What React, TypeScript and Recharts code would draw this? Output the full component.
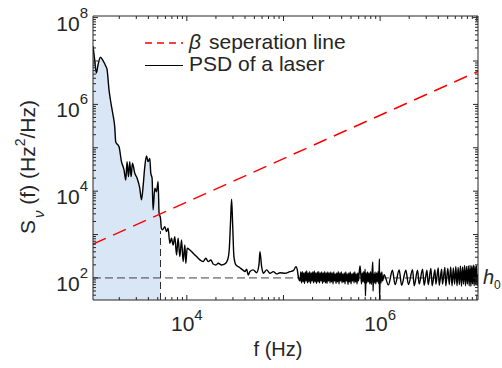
import React from 'react';
import { ComposedChart, XAxis, YAxis, Line, Area, ReferenceLine, Customized } from 'recharts';

const FONT = '"Liberation Sans", Arial, Helvetica, sans-serif';
const INK = '#262626';

const X_MIN = 1069;
const X_MAX = 1.03e7;
const Y_MIN = 31;
const Y_MAX = 1.09e8;

// Low-frequency part of the laser PSD (inside the A_s region)
const lowFreq = [1069, 1113, 1160, 1204, 1276, 1357, 1447, 1494, 1566, 1631, 1722, 1795, 1838, 1988, 2106, 2240, 2333, 2406, 2488, 2566, 2648, 2736, 2892, 3055, 3258, 3394, 3525, 3671, 3823, 3972, 4137, 4236, 4369, 4475, 4660, 4853, 5042, 5163, 5340];
const lowPsd = [2.21e7, 1.05e7, 5.3e6, 8.1e6, 1.22e7, 1.02e7, 7.7e6, 6.4e6, 2.15e6, 1.15e6, 5.7e5, 3.0e5, 1.36e5, 1.06e5, 4.8e4, 3.1e4, 1.8e4, 4.8e4, 2.16e4, 4.8e4, 2.16e4, 4.4e4, 2.6e4, 2.0e4, 1.17e4, 6.3e3, 1.27e4, 3.66e4, 6.5e4, 4.8e4, 5.7e4, 2.6e4, 2.0e4, 3.7e3, 1.17e4, 9.7e3, 1.66e4, 3.1e3, 2.4e3];

// Mid-frequency part
const midFreq = [5441, 5601, 5916, 6161, 6401, 6665, 6940, 7211, 7510, 7823, 8125, 8463, 8812, 9155, 9535, 9765, 10072, 10742, 11623, 12610, 13637, 14755, 15738, 16626, 17730, 18730, 19977, 21105, 22883, 24755, 26413, 27442, 28375, 29057, 29760, 30700, 32200, 34830, 37780, 39920, 41560, 43180, 44970, 48660, 52780, 55740, 57080, 59440, 61760, 66980, 72470, 78420, 85030, 91990, 103660, 116800, 126400, 134800, 139000, 142400];
const midPsd = [1420, 1280, 1520, 1170, 1400, 631, 822, 575, 895, 339, 822, 310, 751, 238, 575, 218, 483, 442, 371, 310, 260, 238, 284, 238, 260, 210, 199, 218, 199, 210, 260, 442, 2170, 6500, 1820, 310, 199, 176, 153, 140, 159, 117, 140, 153, 132, 199, 404, 182, 128, 153, 128, 140, 124, 132, 128, 140, 147, 182, 153, 107];

// Noise floor band
const noiseFreq = [148300, 151000, 153700, 156500, 159300, 162200, 165100, 168100, 171100, 174200, 177300, 180500, 183800, 187100, 190500, 194000, 197400, 201000, 204600, 208300, 212000, 215900, 219800, 223800, 227800, 231900, 236000, 240300, 244600, 249000, 253500, 258100, 262800, 267500, 272300, 277300, 282300, 287400, 292500, 297800, 303200, 308700, 314200, 319900, 325600, 331500, 337500, 343600, 349800, 356100, 362500, 369100, 375700, 382500, 389400, 396400, 403500, 410800, 418200, 425800, 433400, 441300, 449200, 457300, 465600, 474000, 482500, 491200, 500000, 509000, 518200, 527600, 537100, 546800, 556700, 566700, 576900, 587300, 597900, 608700, 619700, 630900, 642300, 653900, 665600, 677700, 689900, 699300, 705000, 715000, 727900, 741000, 754400, 768000, 781900, 796000, 810400, 825000, 840400, 845000, 855000, 870500, 886100, 902100, 918300, 934900, 951800, 968900, 983600, 986000, 1004000, 1022000, 1040000, 1060000];
const noisePsd = [85, 137, 77, 140, 81, 130, 75, 137, 85, 145, 77, 130, 81, 140, 75, 130, 85, 137, 77, 145, 81, 130, 75, 137, 81, 140, 77, 130, 85, 137, 75, 130, 81, 140, 77, 130, 75, 137, 85, 130, 77, 137, 81, 130, 73, 137, 85, 124, 75, 130, 81, 140, 73, 130, 85, 137, 77, 124, 81, 130, 73, 137, 85, 124, 71, 130, 81, 137, 73, 124, 85, 130, 77, 137, 81, 124, 73, 130, 85, 137, 189, 124, 73, 130, 81, 140, 77, 160, 38.5, 130, 77, 137, 81, 130, 73, 140, 71, 130, 234, 50, 124, 77, 137, 73, 130, 81, 140, 73, 274, 31, 130, 77, 137, 85];

// High-frequency ringing
const ringFreq = [1.1e6, 1.219e6, 1.34e6, 1.43e6, 1.574e6, 1.669e6, 1.846e6, 1.965e6, 2.166e6, 2.252e6, 2.44e6, 2.536e6, 2.75e6, 2.858e6, 3.05e6, 3.145e6, 3.35e6, 3.46e6, 3.69e6, 3.78e6, 3.99e6, 4.09e6, 4.33e6, 4.42e6, 4.68e6, 4.78e6, 5.02e6, 5.2e6, 5.37e6, 5.55e6, 5.72e6, 5.9e6, 6.07e6, 6.25e6, 6.42e6, 6.6e6, 6.77e6, 6.95e6, 7.12e6, 7.3e6, 7.47e6, 7.65e6, 7.82e6, 8.0e6, 8.17e6, 8.35e6, 8.52e6, 8.7e6, 8.87e6, 9.05e6, 9.22e6, 9.4e6, 9.57e6, 9.75e6, 9.92e6, 1.01e7, 1.03e7];
const ringPsd = [118, 69, 150, 70, 153, 68, 150, 70, 155, 66, 150, 72, 160, 68, 150, 70, 165, 66, 155, 72, 170, 68, 160, 72, 175, 66, 165, 70, 180, 66, 170, 72, 185, 66, 175, 70, 190, 64, 180, 72, 195, 66, 185, 72, 190, 66, 195, 64, 188, 72, 198, 66, 190, 72, 195, 66, 120];

// beta separation line endpoints
const betaFreq = [1069, 1.03e7];
const betaValue = [600.6, 5.787e6];

// A_s boundary and h0 level
const cutoffFreq = [5340, 5340];
const cutoffValue = [31, 1200];
const h0Level = 100;

// ticks
const xTickLabelValues = [1e4, 1e6];
const yTickLabelValues = [1e2, 1e4, 1e6, 1e8];
const xDecades = [1e3, 1e4, 1e5, 1e6, 1e7];
const yDecades = [10, 1e2, 1e3, 1e4, 1e5, 1e6, 1e7, 1e8];
const tickMultipliers = [1, 2, 3, 4, 5, 6, 7, 8, 9];

const xTicks = xDecades.flatMap((d) => tickMultipliers.map((m) => d * m)).filter((v) => v >= X_MIN && v <= X_MAX);
const yTicks = yDecades.flatMap((d) => tickMultipliers.map((m) => d * m)).filter((v) => v >= Y_MIN && v <= Y_MAX);

const toRows = (fs: number[], vs: number[]) => fs.map((f, i) => ({ f, v: vs[i] }));
const psdRows = [
  ...toRows(lowFreq, lowPsd),
  ...toRows(midFreq, midPsd),
  ...toRows(noiseFreq, noisePsd),
  ...toRows(ringFreq, ringPsd),
];
const fillRows = toRows(lowFreq, lowPsd);
const betaRows = toRows(betaFreq, betaValue);
const cutoffRows = toRows(cutoffFreq, cutoffValue);

const isDecade = (v: number) => Math.abs(Math.log10(v) - Math.round(Math.log10(v))) < 1e-9;
const expOf = (v: number) => Math.round(Math.log10(v));

function BottomTick(props: any) {
  const { x, y, payload } = props;
  const v = payload.value;
  const len = isDecade(v) ? 5 : 3;
  return (
    <g>
      <line x1={x} x2={x} y1={y} y2={y - len} stroke={INK} strokeWidth={1} />
      {xTickLabelValues.includes(v) && (
        <text x={x} y={y + 31} textAnchor="middle" fontSize={21} fill={INK} fontFamily={FONT}>
          10<tspan dy={-11} fontSize={15}>{expOf(v)}</tspan>
        </text>
      )}
    </g>
  );
}

function TopTick(props: any) {
  const { x, y, payload } = props;
  const len = isDecade(payload.value) ? 5 : 3;
  return <line x1={x} x2={x} y1={y} y2={y + len} stroke={INK} strokeWidth={1} />;
}

function LeftTick(props: any) {
  const { x, y, payload } = props;
  const v = payload.value;
  const len = isDecade(v) ? 5 : 3;
  return (
    <g>
      <line x1={x} x2={x + len} y1={y} y2={y} stroke={INK} strokeWidth={1} />
      {yTickLabelValues.includes(v) && (
        <text x={x - 5} y={y + 13} textAnchor="end" fontSize={21} fill={INK} fontFamily={FONT}>
          10<tspan dy={-13} fontSize={15}>{expOf(v)}</tspan>
        </text>
      )}
    </g>
  );
}

function RightTick(props: any) {
  const { x, y, payload } = props;
  const len = isDecade(payload.value) ? 5 : 3;
  return <line x1={x} x2={x - len} y1={y} y2={y} stroke={INK} strokeWidth={1} />;
}

function Overlay() {
  return (
    <g fontFamily={FONT} fill={INK}>
      {/* legend */}
      <line x1={145} x2={183} y1={43} y2={43} stroke="#ff0000" strokeWidth={1.5} strokeDasharray="7 5" />
      <text x={189} y={49} fontSize={21} fontStyle="italic" fill={INK}>β</text>
      <text x={209} y={49} fontSize={21} fill={INK}>seperation line</text>
      <line x1={145} x2={183} y1={65.5} y2={65.5} stroke="#000" strokeWidth={1.2} />
      <text x={189} y={70.5} fontSize={21} fill={INK}>PSD of a laser</text>
      {/* annotations */}
      <text x={116} y={252.5} fontSize={17} fontStyle="italic" fill={INK}>A</text>
      <text x={130} y={256} fontSize={15} fill={INK}>s</text>
      <text x={483} y={284} fontSize={20} fontStyle="italic" fill={INK}>h</text>
      <text x={494} y={289} fontSize={12} fill={INK}>0</text>
      {/* axis labels */}
      <text x={278} y={356} fontSize={20} textAnchor="middle" fill={INK}>f (Hz)</text>
      <text transform="translate(35,234) rotate(-90)" fontSize={21} fill={INK}>
        S<tspan dx={2} dy={9} fontSize={15} fontStyle="italic">ν</tspan>
        <tspan dy={-9}> (f) (Hz</tspan>
        <tspan dy={-10} fontSize={14}>2</tspan>
        <tspan dy={10}>/Hz)</tspan>
      </text>
    </g>
  );
}

export default function App() {
  return (
    <div style={{ position: 'absolute', left: 0, top: 0, width: 502, height: 368, background: '#fff' }}>
      <ComposedChart
        width={502}
        height={368}
        margin={{ top: 15, right: 23, bottom: 8, left: 13 }}
        style={{ fontFamily: FONT }}
      >
        <XAxis
          xAxisId="b"
          type="number"
          dataKey="f"
          scale="log"
          domain={[X_MIN, X_MAX]}
          allowDataOverflow
          ticks={xTicks}
          interval={0}
          tickSize={0}
          tickMargin={0}
          tickLine={false}
          tick={(p: any) => <BottomTick {...p} />}
          axisLine={{ stroke: INK, strokeWidth: 1 }}
          height={60}
        />
        <XAxis
          xAxisId="t"
          orientation="top"
          type="number"
          dataKey="f"
          scale="log"
          domain={[X_MIN, X_MAX]}
          allowDataOverflow
          ticks={xTicks}
          interval={0}
          tickSize={0}
          tickMargin={0}
          tickLine={false}
          tick={(p: any) => <TopTick {...p} />}
          axisLine={{ stroke: INK, strokeWidth: 1 }}
          height={1}
        />
        <YAxis
          yAxisId="l"
          type="number"
          scale="log"
          domain={[Y_MIN, Y_MAX]}
          allowDataOverflow
          ticks={yTicks}
          interval={0}
          tickSize={0}
          tickMargin={0}
          tickLine={false}
          tick={(p: any) => <LeftTick {...p} />}
          axisLine={{ stroke: INK, strokeWidth: 1 }}
          width={80}
        />
        <YAxis
          yAxisId="r"
          orientation="right"
          type="number"
          scale="log"
          domain={[Y_MIN, Y_MAX]}
          allowDataOverflow
          ticks={yTicks}
          interval={0}
          tickSize={0}
          tickMargin={0}
          tickLine={false}
          tick={(p: any) => <RightTick {...p} />}
          axisLine={{ stroke: INK, strokeWidth: 1 }}
          width={1}
        />
        <Area
          data={fillRows}
          xAxisId="b"
          yAxisId="l"
          dataKey="v"
          type="linear"
          baseValue={Y_MIN}
          fill="#d8e6f5"
          fillOpacity={1}
          stroke="none"
          isAnimationActive={false}
        />
        <ReferenceLine
          xAxisId="b"
          yAxisId="l"
          y={h0Level}
          stroke="#404040"
          strokeWidth={1}
          strokeDasharray="8 4"
        />
        <Line
          data={cutoffRows}
          xAxisId="b"
          yAxisId="l"
          dataKey="v"
          stroke="#303030"
          strokeWidth={1}
          strokeDasharray="7 4"
          dot={false}
          activeDot={false}
          isAnimationActive={false}
        />
        <Line
          data={psdRows}
          xAxisId="b"
          yAxisId="l"
          dataKey="v"
          type="monotone"
          stroke="#000"
          strokeWidth={1.4}
          dot={false}
          activeDot={false}
          isAnimationActive={false}
        />
        <Line
          data={betaRows}
          xAxisId="b"
          yAxisId="l"
          dataKey="v"
          type="linear"
          stroke="#ff0000"
          strokeWidth={1.5}
          strokeDasharray="14 8"
          dot={false}
          activeDot={false}
          isAnimationActive={false}
        />
        <Customized component={<Overlay />} />
      </ComposedChart>
    </div>
  );
}
